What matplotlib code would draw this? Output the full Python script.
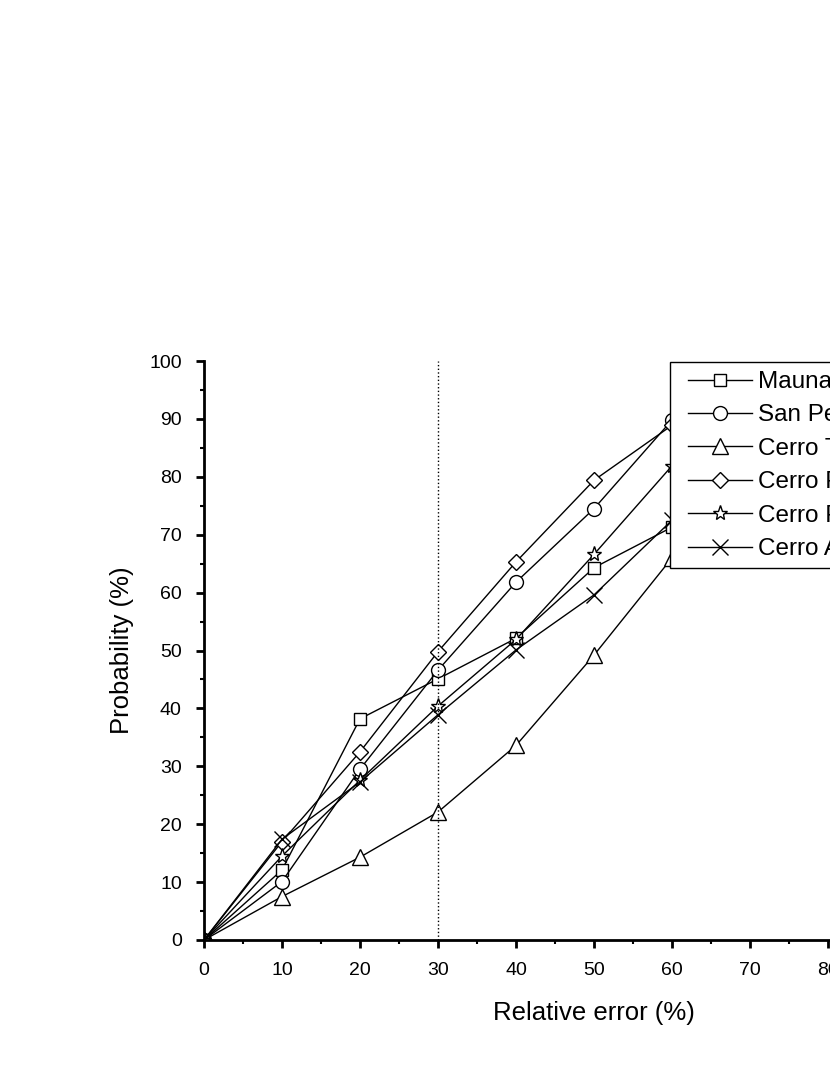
import matplotlib.pyplot as plt
from matplotlib.patches import Rectangle
import numpy as np

plt.rcParams['font.family'] = ['Liberation Sans', 'DejaVu Sans']

err = [0, 10, 20, 30, 40, 50, 60]

mauna = [0, 12.1, 38.2, 45.1, 52.1, 64.3, 71.3]
san_pedro = [0, 10.1, 29.5, 46.6, 61.8, 74.5, 89.8]
cerro_a = [0, 7.5, 14.3, 22.1, 33.6, 49.2, 66.0]
cerro_b = [0, 17.0, 32.5, 49.8, 65.3, 79.4, 88.9]
cerro_c = [0, 14.5, 27.6, 40.4, 51.9, 66.6, 81.9]
cerro_d = [0, 17.4, 27.3, 38.9, 50.1, 59.6, 72.5]

names = ['Mauna Kea', 'San Pedro Martir', 'Cerro Tololo', 'Cerro Pachon',
         'Cerro Paranal', 'Cerro Armazones']
series = [mauna, san_pedro, cerro_a, cerro_b, cerro_c, cerro_d]
markers = ['s', 'o', '^', 'D', '*', 'x']
msizes = [9, 10, 11, 8, 11, 11]

fig = plt.figure(figsize=(8.3, 10.75), dpi=100)
ax = fig.add_axes([204 / 830, 135 / 1075, 780 / 830, 579 / 1075])

handles = []
for y, name, m, ms in zip(series, names, markers, msizes):
    h, = ax.plot(err, y, '-', color='black', linewidth=1.0, marker=m,
                 markersize=ms, markerfacecolor='white', markeredgecolor='black',
                 markeredgewidth=1.0, label=name)
    handles.append(h)

ax.axvline(30, color='black', linestyle=':', linewidth=1.0)

ax.set_xlim(0, 100)
ax.set_ylim(0, 100)
ax.set_xticks(np.arange(0, 101, 10))
ax.set_yticks(np.arange(0, 101, 10))
ax.set_xticks(np.arange(0, 101, 5), minor=True)
ax.set_yticks(np.arange(0, 101, 5), minor=True)
ax.tick_params(which='major', direction='out', length=6, width=2, labelsize=14)
ax.tick_params(which='minor', direction='out', length=3, width=1.5)
ax.tick_params(axis='x', which='major', pad=10)
ax.tick_params(axis='y', which='major', pad=10)
for s in ['top', 'right']:
    ax.spines[s].set_visible(False)
for s in ['left', 'bottom']:
    ax.spines[s].set_linewidth(2)

ax.set_xlabel('Relative error (%)', fontsize=18.5, labelpad=16)
ax.set_ylabel('Probability (%)', fontsize=18.5, labelpad=11)

# legend frame (box runs off the right edge, as in the original)
frame = Rectangle((670 / 830, 1 - 568 / 1075), 0.5, (568 - 362) / 1075,
                  transform=fig.transFigure, facecolor='white',
                  edgecolor='black', linewidth=1.0, zorder=4)
fig.patches.append(frame)

leg = fig.legend(handles=handles, loc='upper left',
                 bbox_to_anchor=(688 / 830, 1 - 371 / 1075),
                 fontsize=17.5, frameon=False,
                 handlelength=2.63, handletextpad=0.25, labelspacing=0.47,
                 borderpad=0, borderaxespad=0)
leg.set_zorder(5)

fig.savefig('out.png', dpi=100)
